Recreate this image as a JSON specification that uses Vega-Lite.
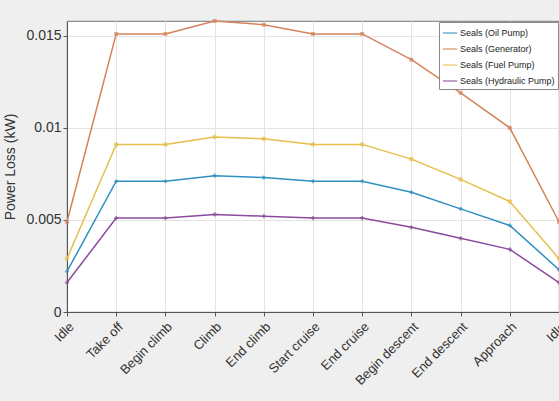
{
  "$schema": "https://vega.github.io/schema/vega-lite/v6.json",
  "autosize": {"type": "none"},
  "padding": {"left": 67, "top": 21, "right": 0, "bottom": 89},
  "width": 492,
  "height": 291,
  "background": "#efefef",
  "config": {
    "view": {"fill": "white", "stroke": "#555", "strokeWidth": 0.8},
    "font": "Liberation Sans"
  },
  "data": {"values": [
    {"i":0,"s":"Seals (Oil Pump)","v":0.0022},{"i":1,"s":"Seals (Oil Pump)","v":0.0071},{"i":2,"s":"Seals (Oil Pump)","v":0.0071},{"i":3,"s":"Seals (Oil Pump)","v":0.0074},{"i":4,"s":"Seals (Oil Pump)","v":0.0073},{"i":5,"s":"Seals (Oil Pump)","v":0.0071},{"i":6,"s":"Seals (Oil Pump)","v":0.0071},{"i":7,"s":"Seals (Oil Pump)","v":0.0065},{"i":8,"s":"Seals (Oil Pump)","v":0.0056},{"i":9,"s":"Seals (Oil Pump)","v":0.0047},{"i":10,"s":"Seals (Oil Pump)","v":0.0023},
    {"i":0,"s":"Seals (Generator)","v":0.0049},{"i":1,"s":"Seals (Generator)","v":0.0151},{"i":2,"s":"Seals (Generator)","v":0.0151},{"i":3,"s":"Seals (Generator)","v":0.0158},{"i":4,"s":"Seals (Generator)","v":0.0156},{"i":5,"s":"Seals (Generator)","v":0.0151},{"i":6,"s":"Seals (Generator)","v":0.0151},{"i":7,"s":"Seals (Generator)","v":0.0137},{"i":8,"s":"Seals (Generator)","v":0.0119},{"i":9,"s":"Seals (Generator)","v":0.0100},{"i":10,"s":"Seals (Generator)","v":0.0049},
    {"i":0,"s":"Seals (Fuel Pump)","v":0.0029},{"i":1,"s":"Seals (Fuel Pump)","v":0.0091},{"i":2,"s":"Seals (Fuel Pump)","v":0.0091},{"i":3,"s":"Seals (Fuel Pump)","v":0.0095},{"i":4,"s":"Seals (Fuel Pump)","v":0.0094},{"i":5,"s":"Seals (Fuel Pump)","v":0.0091},{"i":6,"s":"Seals (Fuel Pump)","v":0.0091},{"i":7,"s":"Seals (Fuel Pump)","v":0.0083},{"i":8,"s":"Seals (Fuel Pump)","v":0.0072},{"i":9,"s":"Seals (Fuel Pump)","v":0.0060},{"i":10,"s":"Seals (Fuel Pump)","v":0.0029},
    {"i":0,"s":"Seals (Hydraulic Pump)","v":0.0016},{"i":1,"s":"Seals (Hydraulic Pump)","v":0.0051},{"i":2,"s":"Seals (Hydraulic Pump)","v":0.0051},{"i":3,"s":"Seals (Hydraulic Pump)","v":0.0053},{"i":4,"s":"Seals (Hydraulic Pump)","v":0.0052},{"i":5,"s":"Seals (Hydraulic Pump)","v":0.0051},{"i":6,"s":"Seals (Hydraulic Pump)","v":0.0051},{"i":7,"s":"Seals (Hydraulic Pump)","v":0.0046},{"i":8,"s":"Seals (Hydraulic Pump)","v":0.0040},{"i":9,"s":"Seals (Hydraulic Pump)","v":0.0034},{"i":10,"s":"Seals (Hydraulic Pump)","v":0.0016}
  ]},
  "encoding": {
    "x": {"field": "i", "type": "quantitative", "scale": {"domain": [0, 10], "nice": false, "zero": false},
      "axis": {"title": null, "values": [0,1,2,3,4,5,6,7,8,9,10],
        "labelExpr": "['Idle','Take off','Begin climb','Climb','End climb','Start cruise','End cruise','Begin descent','End descent','Approach','Idle'][datum.value]",
        "labelAngle": -45, "labelFontSize": 13, "labelColor": "#333", "labelPadding": 4,
        "gridColor": "#e4e4e4", "domainColor": "#555", "tickColor": "#555", "tickSize": 4,
        "labelFlush": false, "labelOverlap": false}},
    "y": {"field": "v", "type": "quantitative", "scale": {"domain": [0, 0.0158], "nice": false},
      "axis": {"title": "Power Loss (kW)", "values": [0, 0.005, 0.01, 0.015],
        "labelExpr": "datum.value == 0 ? '0' : format(datum.value, '.3~f')",
        "labelFontSize": 14, "labelColor": "#333", "titleFontSize": 14, "titleFontWeight": "normal", "titleColor": "#333", "titlePadding": 8,
        "gridColor": "#e4e4e4", "domainColor": "#555", "tickColor": "#555", "tickSize": 4, "labelFlush": false}},
    "color": {"field": "s", "type": "nominal",
      "scale": {"domain": ["Seals (Oil Pump)","Seals (Generator)","Seals (Fuel Pump)","Seals (Hydraulic Pump)"],
        "range": ["#2f8fc0","#d4825a","#e6bf4a","#8b4a9c"]},
      "legend": {"title": null, "orient": "none", "legendX": 372, "legendY": 1,
        "fillColor": "white", "strokeColor": "#888", "padding": 3, "rowPadding": 3, "labelOffset": 2,
        "labelFontSize": 9, "labelColor": "#222", "symbolType": "stroke", "symbolSize": 200, "symbolStrokeWidth": 1.5}}
  },
  "layer": [
    {"mark": {"type": "line", "strokeWidth": 1.5}},
    {"transform": [{"filter": "datum.s == 'Seals (Oil Pump)'"}], "mark": {"type": "point", "filled": true, "size": 22, "shape": "diamond"}},
    {"transform": [{"filter": "datum.s == 'Seals (Generator)'"}], "mark": {"type": "point", "filled": true, "size": 16, "shape": "square"}},
    {"transform": [{"filter": "datum.s == 'Seals (Fuel Pump)'"}], "mark": {"type": "point", "filled": true, "size": 22, "shape": "circle"}},
    {"transform": [{"filter": "datum.s == 'Seals (Hydraulic Pump)'"}], "mark": {"type": "point", "filled": true, "size": 18, "shape": "cross"}}
  ]
}
